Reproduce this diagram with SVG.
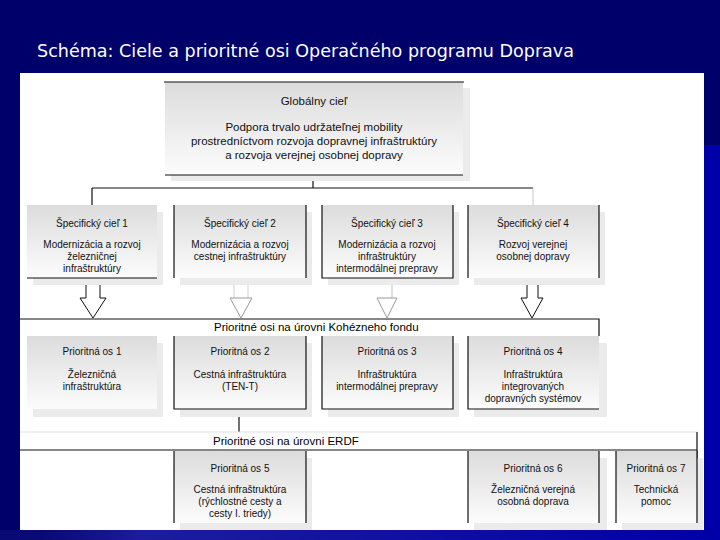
<svg xmlns="http://www.w3.org/2000/svg" width="720" height="540" viewBox="0 0 720 540">
<defs>
<linearGradient id="boxGrad" x1="0" y1="0" x2="0" y2="1">
<stop offset="0" stop-color="#dcdcdc"/>
<stop offset="1" stop-color="#fcfcfc"/>
</linearGradient>
<linearGradient id="bottomBand" x1="0" y1="0" x2="1" y2="0">
<stop offset="0" stop-color="#0a0a72"/>
<stop offset="0.07" stop-color="#0a0a78"/>
<stop offset="0.2" stop-color="#1c1ca0"/>
<stop offset="1" stop-color="#0000a8"/>
</linearGradient>
<style>
.t{font-family:"Liberation Sans",Arial,sans-serif;fill:#111;text-anchor:middle;font-size:10px}
.g{font-size:11.5px}
.lab{font-family:"Liberation Sans",Arial,sans-serif;fill:#000;font-size:11.5px}
.box{fill:url(#boxGrad)}
.sh{fill:#ebebeb}
.edge{fill:none;stroke:#111;stroke-width:1.2}
.ln{fill:none;stroke:#111;stroke-width:1.2}
.ar{fill:#fff;stroke:#111;stroke-width:1}
.arg{fill:#fff;stroke:#9a9a9a;stroke-width:1}
</style>
</defs>
<rect x="0" y="0" width="720" height="540" fill="#00006b"/>
<rect x="703" y="145" width="17" height="395" fill="#0000a8"/>
<rect x="0" y="530" width="720" height="10" fill="url(#bottomBand)"/>
<text x="37" y="57" font-family="'DejaVu Sans',Tahoma,sans-serif" font-size="17" fill="#ffffff" textLength="537" lengthAdjust="spacingAndGlyphs">Schéma: Ciele a prioritné osi Operačného programu Doprava</text>
<rect x="20" y="73" width="684" height="457" fill="#ffffff"/>

<g id="connectors">
<path class="ln" d="M313,175 V188 M92,188 H533 M92,188 V205"/>
<path d="M533,188 V205" stroke="#c8c8c8" fill="none"/>
<path class="ar" d="M86,279 V298 H80 L93,318 L106,298 H100 V279"/>
<path d="M234,279 V298 M248,279 V298" stroke="#d0d0d0" fill="none"/>
<path class="arg" d="M230,298 L241,318 L252,298 Z"/>
<path d="M392,279 V298" stroke="#c0c0c0" fill="none"/>
<path class="arg" d="M377,298 L387,318 L397,298 Z"/>
<path class="ar" d="M527,279 V298 H521 L532,318 L543,298 H538 V279"/>
<path class="ln" d="M20,319 H599 V336"/>
<text class="lab" x="214" y="331">Prioritné osi na úrovni Kohézneho fondu</text>
<path class="ln" d="M239,409 V432"/>
<path d="M20,432 H697" stroke="#e2e2e2" fill="none"/>
<path class="ln" d="M697,432 V523 M20,450 H697"/>
<text class="lab" x="213" y="445">Prioritné osi na úrovni ERDF</text>
</g>

<g id="global">
<rect class="sh" x="171" y="88" width="299" height="93"/>
<rect class="box" x="165" y="82" width="298" height="93"/>
<path class="edge" d="M164,82 H464 M165,175 H463"/>
<text class="t g" x="314" y="105">Globálny cieľ</text>
<text class="t g" x="314" y="131">Podpora trvalo udržateľnej mobility</text>
<text class="t g" x="314" y="145">prostredníctvom rozvoja dopravnej infraštruktúry</text>
<text class="t g" x="314" y="159">a rozvoja verejnej osobnej dopravy</text>
</g>

<g id="sc1">
<rect class="sh" x="33" y="212" width="130" height="73"/>
<rect class="box" x="27" y="205" width="130" height="73"/>
<path class="edge" d="M27,278 H157"/>
<text class="t" x="92" y="227">Špecifický cieľ 1</text>
<text class="t" x="92" y="248">Modernizácia a rozvoj</text>
<text class="t" x="92" y="260">železničnej</text>
<text class="t" x="92" y="272">infraštruktúry</text>
</g>
<g id="sc2">
<rect class="sh" x="180" y="212" width="132" height="73"/>
<rect class="box" x="174" y="205" width="132" height="73"/>
<path class="edge" d="M174,205 V278 M306,205 V278"/>
<text class="t" x="240" y="227">Špecifický cieľ 2</text>
<text class="t" x="240" y="248">Modernizácia a rozvoj</text>
<text class="t" x="240" y="260">cestnej infraštruktúry</text>
</g>
<g id="sc3">
<rect class="sh" x="328" y="212" width="131" height="73"/>
<rect class="box" x="322" y="205" width="131" height="73"/>
<path class="edge" d="M322,205 V278 H453 V205"/>
<text class="t" x="387" y="227">Špecifický cieľ 3</text>
<text class="t" x="387" y="248">Modernizácia a rozvoj</text>
<text class="t" x="387" y="260">infraštruktúry</text>
<text class="t" x="387" y="272">intermodálnej prepravy</text>
</g>
<g id="sc4">
<rect class="sh" x="474" y="212" width="131" height="73"/>
<rect class="box" x="468" y="205" width="131" height="73"/>
<path class="edge" d="M468,205 V278 M599,205 V278"/>
<text class="t" x="533" y="227">Špecifický cieľ 4</text>
<text class="t" x="533" y="248">Rozvoj verejnej</text>
<text class="t" x="533" y="260">osobnej dopravy</text>
</g>

<g id="po1">
<rect class="sh" x="33" y="343" width="130" height="74"/>
<rect class="box" x="27" y="336" width="130" height="73"/>
<text class="t" x="92" y="355">Prioritná os 1</text>
<text class="t" x="92" y="378">Železničná</text>
<text class="t" x="92" y="390">infraštruktúra</text>
</g>
<g id="po2">
<rect class="sh" x="180" y="343" width="132" height="74"/>
<rect class="box" x="174" y="336" width="132" height="73"/>
<path class="edge" d="M174,336 V409 H306 V336"/>
<text class="t" x="240" y="355">Prioritná os 2</text>
<text class="t" x="240" y="378">Cestná infraštruktúra</text>
<text class="t" x="240" y="390">(TEN-T)</text>
</g>
<g id="po3">
<rect class="sh" x="328" y="343" width="131" height="74"/>
<rect class="box" x="322" y="336" width="131" height="73"/>
<path class="edge" d="M322,336 V409 H453 V336"/>
<text class="t" x="387" y="355">Prioritná os 3</text>
<text class="t" x="387" y="378">Infraštruktúra</text>
<text class="t" x="387" y="390">intermodálnej prepravy</text>
</g>
<g id="po4">
<rect class="sh" x="474" y="343" width="133" height="74"/>
<rect class="box" x="468" y="336" width="131" height="73"/>
<path class="edge" d="M468,336 V409 H599"/>
<text class="t" x="533" y="355">Prioritná os 4</text>
<text class="t" x="533" y="378">Infraštruktúra</text>
<text class="t" x="533" y="390">integrovaných</text>
<text class="t" x="533" y="402">dopravných systémov</text>
</g>

<g id="po5">
<rect class="sh" x="180" y="458" width="132" height="72"/>
<rect class="box" x="174" y="451" width="132" height="72"/>
<path class="edge" d="M174,451 V523 M306,451 V523"/>
<text class="t" x="240" y="472">Prioritná os 5</text>
<text class="t" x="240" y="493">Cestná infraštruktúra</text>
<text class="t" x="240" y="505">(rýchlostné cesty a</text>
<text class="t" x="240" y="517">cesty I. triedy)</text>
</g>
<g id="po6">
<rect class="sh" x="474" y="458" width="133" height="72"/>
<rect class="box" x="468" y="451" width="131" height="72"/>
<path class="edge" d="M468,451 V523 M599,451 V523"/>
<text class="t" x="533" y="472">Prioritná os 6</text>
<text class="t" x="533" y="493">Železničná verejná</text>
<text class="t" x="533" y="505">osobná doprava</text>
</g>
<g id="po7">
<rect class="sh" x="622" y="458" width="81" height="72"/>
<rect class="box" x="616" y="451" width="81" height="72"/>
<path class="edge" d="M616,451 V523 M697,451 V523"/>
<text class="t" x="656" y="472">Prioritná os 7</text>
<text class="t" x="656" y="493">Technická</text>
<text class="t" x="656" y="505">pomoc</text>
</g>
</svg>
